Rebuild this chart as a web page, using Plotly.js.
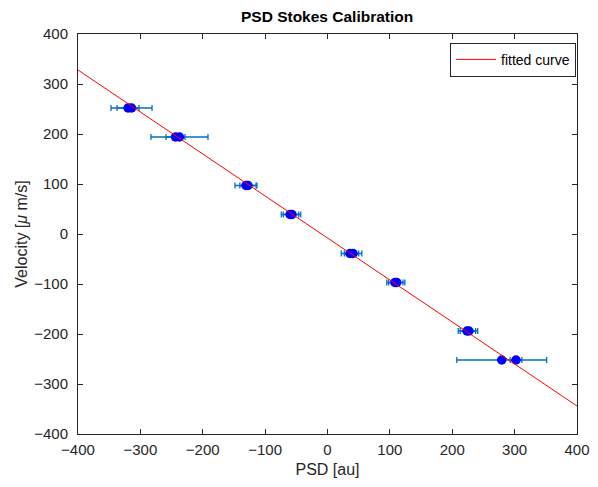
<!DOCTYPE html>
<html>
<head>
<meta charset="utf-8">
<script src="https://cdn.plot.ly/plotly-3.0.1.min.js"></script>
<style>html,body{margin:0;padding:0;background:#fff;}#chart{width:598px;height:487px;}</style>
</head>
<body>
<div id="chart"></div>
<script>
// Measured points (PSD, velocity) with horizontal error
const psd = [-319.8, -314.2, -243.7, -237.3, -130.7, -127.5, -60.1, -56.9, 36.0, 41.0, 108.0, 111.0, 223.6, 226.8, 279.3, 302.2];
const velocity = [252, 252, 194, 194, 97, 97, 39, 39, -39, -39, -97, -97, -194, -194, -252, -252];
const psdErr = [17.6, 32.9, 15.2, 45.7, 17.6, 13.0, 14.0, 14.0, 14.0, 14.0, 13.0, 13.0, 14.0, 14.0, 72.0, 9.4];
// Fitted curve endpoints
const fitX = [-400, 400];
const fitY = [328, -344];
const xTicks = [-400, -300, -200, -100, 0, 100, 200, 300, 400];
const yTicks = [-400, -300, -200, -100, 0, 100, 200, 300, 400];

const axisColor = '#262626';
const font = 'Liberation Sans, Arial, Helvetica, sans-serif';

const traces = [
  {
    x: psd, y: velocity, type: 'scatter', mode: 'markers',
    showlegend: false,
    marker: {color: '#0000FF', size: 9.5, line: {width: 0}},
    error_x: {type: 'data', array: psdErr, visible: true, color: '#0072BD', thickness: 1.3, width: 3}
  },
  {
    x: fitX, y: fitY, type: 'scatter', mode: 'lines',
    name: 'fitted curve',
    line: {color: '#FF0000', width: 1}
  }
];

const axisCommon = {
  showgrid: false, zeroline: false, showline: true, mirror: 'ticks',
  linecolor: axisColor, linewidth: 1, ticks: 'inside', ticklen: 5,
  tickcolor: axisColor, tickfont: {family: font, size: 15, color: axisColor}
};

const layout = {
  width: 598, height: 487,
  margin: {l: 78, r: 21, t: 34, b: 53},
  paper_bgcolor: '#fff', plot_bgcolor: '#fff',
  title: {text: '<b>PSD Stokes Calibration</b>', font: {family: font, size: 15.5, color: '#000'}, x: 0.547, xanchor: 'center', y: 0.977, yanchor: 'top'},
  xaxis: Object.assign({}, axisCommon, {
    range: [-400, 400], tickvals: xTicks, ticklabelstandoff: 2,
    title: {text: 'PSD [au]', font: {family: font, size: 16, color: axisColor}, standoff: 6}
  }),
  yaxis: Object.assign({}, axisCommon, {
    range: [-400, 400], tickvals: yTicks, ticklabelstandoff: 6,
    title: {text: 'Velocity [<i>μ</i> m/s]', font: {family: font, size: 16, color: axisColor}, standoff: 2}
  }),
  legend: {
    x: 0.998, xanchor: 'right', y: 0.978, yanchor: 'top',
    bgcolor: '#fff', bordercolor: axisColor, borderwidth: 1, itemwidth: 40,
    font: {family: font, size: 14, color: '#000'}
  }
};

Plotly.newPlot('chart', traces, layout, {displayModeBar: false, staticPlot: true});
</script>
</body>
</html>
